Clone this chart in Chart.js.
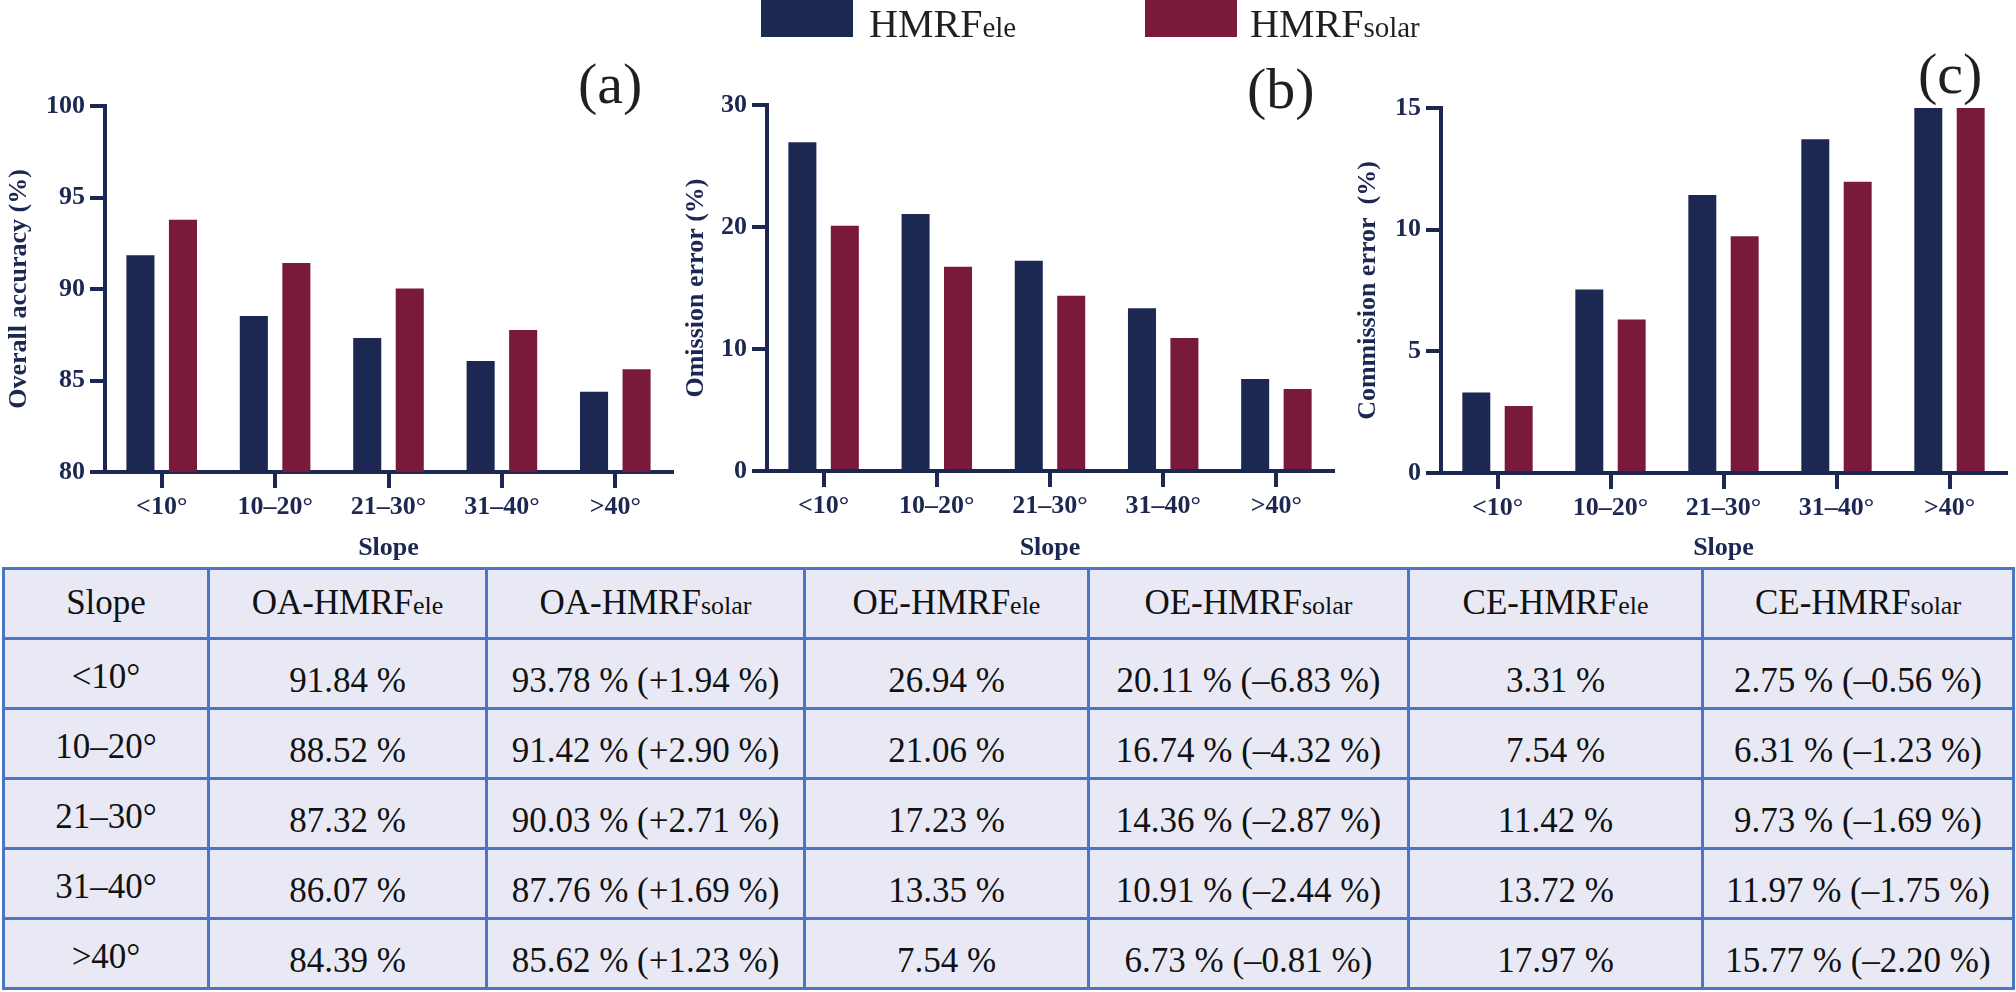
<!DOCTYPE html>
<html lang="en">
<head>
  <meta charset="UTF-8" />
  <title>HMRF accuracy by slope</title>
  <script src="https://cdn.jsdelivr.net/npm/chart.js"></script>
  <style>
    body { margin: 0; background: #fff; width: 2016px; height: 992px; position: relative; overflow: hidden; font-family: "Liberation Serif", "Times New Roman", serif; }
    canvas { position: absolute; top: 0; }
    .legend-box { position: absolute; top: 0; width: 92px; height: 37px; }
    .legend-text { position: absolute; top: 4px; font-size: 40px; line-height: 1; color: #231f20; white-space: nowrap; }
    .small { font-size: 29px; }
    .panel { position: absolute; font-size: 58px; line-height: 1; color: #231f20; }
    table { position: absolute; left: 2px; top: 567px; border-collapse: collapse; background: #e8e9f5; table-layout: fixed; }
    tr { height: 70px; }
    td { border: 3px solid #4a76c4; text-align: center; vertical-align: middle; font-size: 35px; line-height: 1.15; color: #111; padding: 0; white-space: nowrap; }
    td.cat { padding-top: 8px; }
    td.val { padding-top: 16px; }
    td .small { font-size: 26px; }
  </style>
</head>
<body>
  <canvas id="chartA" width="690" height="570" style="left:0px"></canvas>
  <canvas id="chartB" width="671" height="570" style="left:672px"></canvas>
  <canvas id="chartC" width="673" height="570" style="left:1343px"></canvas>

  <div id="legend"></div>
  <div class="panel" style="left:578px; top:55px;">(a)</div>
  <div class="panel" style="left:1247px; top:60px;">(b)</div>
  <div class="panel" style="left:1918px; top:45px;">(c)</div>

  <table id="tabela"></table>

  <script>
    var slopes = ['<10°', '10–20°', '21–30°', '31–40°', '>40°'];
    var seriesBase = 'HMRF';
    var seriesSuffix = ['ele', 'solar'];
    var seriesColors = ['#1c2752', '#7a1a3b'];

    var oaEle = [91.84, 88.52, 87.32, 86.07, 84.39];
    var oaSolar = [93.78, 91.42, 90.03, 87.76, 85.62];
    var oeEle = [26.94, 21.06, 17.23, 13.35, 7.54];
    var oeSolar = [20.11, 16.74, 14.36, 10.91, 6.73];
    var ceEle = [3.31, 7.54, 11.42, 13.72, 17.97];
    var ceSolar = [2.75, 6.31, 9.73, 11.97, 15.77];

    var navy = '#1c2752';
    var tickFont = { family: 'Liberation Serif', size: 26, weight: 'bold' };

    // x axis line keeps going under the y ticks, like in the original
    var axisStub = {
      id: 'axisStub',
      afterDraw: function (chart) {
        var ctx = chart.ctx, a = chart.chartArea;
        var len = chart.options.scales.y.grid.tickLength;
        ctx.save();
        ctx.strokeStyle = navy;
        ctx.lineWidth = 4;
        ctx.beginPath();
        ctx.moveTo(a.left - len, a.bottom);
        ctx.lineTo(a.left, a.bottom);
        ctx.stroke();
        ctx.restore();
      }
    };

    function drawChart(id, ele, solar, yMin, yMax, yStep, yTitle, box) {
      new Chart(document.getElementById(id), {
        type: 'bar',
        data: {
          labels: slopes,
          datasets: [
            { label: seriesBase + seriesSuffix[0], data: ele, backgroundColor: seriesColors[0] },
            { label: seriesBase + seriesSuffix[1], data: solar, backgroundColor: seriesColors[1] }
          ]
        },
        options: {
          responsive: false,
          animation: false,
          layout: { padding: { left: 0, right: box.right, top: box.top, bottom: 0 } },
          datasets: { bar: { categoryPercentage: 0.75, barPercentage: 0.66 } },
          plugins: { legend: { display: false }, tooltip: { enabled: false } },
          scales: {
            x: {
              grid: { drawOnChartArea: false, offset: false, color: navy, lineWidth: 4, tickLength: 16 },
              border: { color: navy, width: 4 },
              ticks: { color: navy, font: tickFont, padding: 4, maxRotation: 0 },
              title: { display: true, text: 'Slope', color: navy, font: tickFont, padding: { top: 0, bottom: 6 } },
              afterFit: function (s) { s.height = box.xh; }
            },
            y: {
              min: yMin,
              max: yMax,
              ticks: { stepSize: yStep, color: navy, font: tickFont, padding: 5 },
              grid: { drawOnChartArea: false, color: navy, lineWidth: 4, tickLength: 15 },
              border: { color: navy, width: 4 },
              title: { display: true, text: yTitle, color: navy, font: tickFont, padding: { top: box.tp, bottom: 0 } },
              afterFit: function (s) { s.width = box.yw; }
            }
          }
        },
        plugins: [axisStub]
      });
    }

    drawChart('chartA', oaEle, oaSolar, 80, 100, 5, 'Overall accuracy (%)', { yw: 105, xh: 98, top: 106, right: 18, tp: 4 });
    drawChart('chartB', oeEle, oeSolar, 0, 30, 10, 'Omission error (%)', { yw: 95, xh: 99, top: 105, right: 10, tp: 9 });
    drawChart('chartC', ceEle, ceSolar, 0, 15, 5, 'Commission error  (%)', { yw: 98, xh: 97, top: 108, right: 10, tp: 10 });

    // shared legend
    var legendPos = [[761, 869], [1145, 1250]];
    var legendHtml = '';
    for (var i = 0; i < seriesSuffix.length; i++) {
      legendHtml += '<div class="legend-box" style="left:' + legendPos[i][0] + 'px; background:' + seriesColors[i] + '"></div>';
      legendHtml += '<div class="legend-text" style="left:' + legendPos[i][1] + 'px">' + seriesBase + '<span class="small">' + seriesSuffix[i] + '</span></div>';
    }
    document.getElementById('legend').innerHTML = legendHtml;

    // table under the charts
    var colWidths = [205, 278, 318, 284, 320, 294, 311];
    var metrics = [['OA', oaEle, oaSolar], ['OE', oeEle, oeSolar], ['CE', ceEle, ceSolar]];

    function diffText(a, b) {
      var d = b - a;
      var sign = d >= 0 ? '+' : '–';
      return ' (' + sign + Math.abs(d).toFixed(2) + ' %)';
    }

    var html = '<colgroup>';
    for (var c = 0; c < colWidths.length; c++) html += '<col style="width:' + colWidths[c] + 'px">';
    html += '</colgroup><tr><td>Slope</td>';
    for (var m = 0; m < metrics.length; m++) {
      for (var s = 0; s < seriesSuffix.length; s++) {
        html += '<td>' + metrics[m][0] + '-' + seriesBase + '<span class="small">' + seriesSuffix[s] + '</span></td>';
      }
    }
    html += '</tr>';
    for (var r = 0; r < slopes.length; r++) {
      html += '<tr><td class="cat">' + slopes[r] + '</td>';
      for (var k = 0; k < metrics.length; k++) {
        var e = metrics[k][1][r], so = metrics[k][2][r];
        html += '<td class="val">' + e.toFixed(2) + ' %</td>';
        html += '<td class="val">' + so.toFixed(2) + ' %' + diffText(e, so) + '</td>';
      }
      html += '</tr>';
    }
    document.getElementById('tabela').innerHTML = html;
  </script>
</body>
</html>
